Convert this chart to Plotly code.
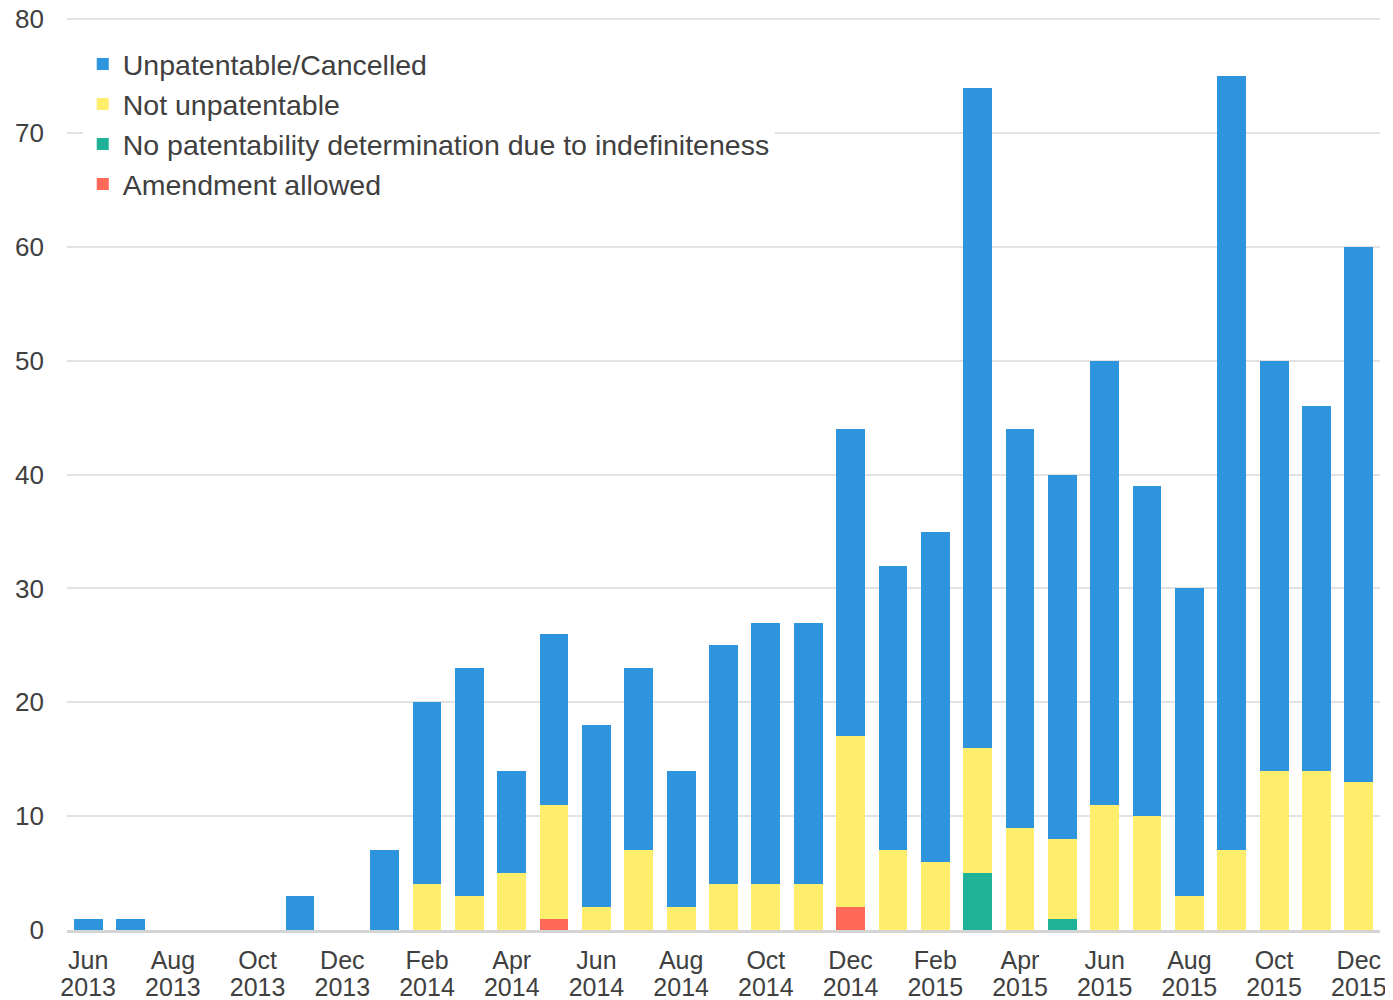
import plotly.graph_objects as go

months = ["Jun 2013", "Jul 2013", "Aug 2013", "Sep 2013", "Oct 2013", "Nov 2013", "Dec 2013",
          "Jan 2014", "Feb 2014", "Mar 2014", "Apr 2014", "May 2014", "Jun 2014", "Jul 2014",
          "Aug 2014", "Sep 2014", "Oct 2014", "Nov 2014", "Dec 2014",
          "Jan 2015", "Feb 2015", "Mar 2015", "Apr 2015", "May 2015", "Jun 2015", "Jul 2015",
          "Aug 2015", "Sep 2015", "Oct 2015", "Nov 2015", "Dec 2015"]

unpatentable = [1, 1, 0, 0, 0, 3, 0, 7, 16, 20, 9, 15, 16, 16, 12, 21, 23, 23, 27,
                25, 29, 58, 35, 32, 39, 29, 27, 68, 36, 32, 47]
not_unpatentable = [0, 0, 0, 0, 0, 0, 0, 0, 4, 3, 5, 10, 2, 7, 2, 4, 4, 4, 15,
                    7, 6, 11, 9, 7, 11, 10, 3, 7, 14, 14, 13]
no_determination = [0, 0, 0, 0, 0, 0, 0, 0, 0, 0, 0, 0, 0, 0, 0, 0, 0, 0, 0,
                    0, 0, 5, 0, 1, 0, 0, 0, 0, 0, 0, 0]
amendment = [0, 0, 0, 0, 0, 0, 0, 0, 0, 0, 0, 1, 0, 0, 0, 0, 0, 0, 2,
             0, 0, 0, 0, 0, 0, 0, 0, 0, 0, 0, 0]

y_ticks = [0, 10, 20, 30, 40, 50, 60, 70, 80]

# every other month gets a label: month name on one axis, year on an overlaid one
tick_idx = list(range(0, len(months), 2))
tick_vals = [months[i] for i in tick_idx]
tick_month = [months[i].split()[0] for i in tick_idx]
tick_year = [months[i].split()[1] for i in tick_idx]

text_color = "#404040"
font_family = "Arial, Liberation Sans, sans-serif"

fig = go.Figure()
# stacking goes bottom to top in trace order
series = [
    ("Amendment allowed", amendment, "#ff695a"),
    ("No patentability determination due to indefiniteness", no_determination, "#1fb299"),
    ("Not unpatentable", not_unpatentable, "#ffee6b"),
    ("Unpatentable/Cancelled", unpatentable, "#2e94de"),
]
for name, vals, col in series:
    fig.add_trace(go.Bar(x=months, y=vals, name=name, marker=dict(color=col, line=dict(width=0))))

# invisible helper so the year axis gets drawn
fig.add_trace(go.Scatter(x=tick_idx, y=[0] * len(tick_idx), xaxis="x2", mode="markers",
                         marker=dict(opacity=0), showlegend=False, hoverinfo="skip"))

fig.update_layout(
    barmode="stack",
    bargap=0.32,
    width=1385,
    height=992,
    margin=dict(l=59, r=13, t=9, b=70),
    paper_bgcolor="white",
    plot_bgcolor="white",
    font=dict(family=font_family, color=text_color, size=25),
    legend=dict(
        traceorder="reversed",
        x=0.012, xanchor="left",
        y=0.976, yanchor="top",
        bgcolor="white",
        font=dict(size=28.5, color=text_color),
        itemwidth=30,
        tracegroupgap=0,
    ),
    xaxis=dict(
        type="category",
        categoryorder="array",
        categoryarray=months,
        tickvals=tick_vals,
        ticktext=tick_month,
        showgrid=False,
        showline=True,
        linecolor="#d4d4d4",
        linewidth=3,
        ticks="",
        tickfont=dict(size=25),
        ticklabelstandoff=6,
        ticklabeloverflow="allow",
        automargin=False,
    ),
    xaxis2=dict(
        overlaying="x",
        anchor="y",
        side="bottom",
        range=[-0.5, len(months) - 0.5],
        tickvals=tick_idx,
        ticktext=tick_year,
        showgrid=False,
        zeroline=False,
        showline=False,
        ticks="",
        tickfont=dict(size=25),
        ticklabelstandoff=40,
        ticklabeloverflow="allow",
        automargin=False,
    ),
    yaxis=dict(
        range=[0, 80.2],
        tickvals=y_ticks,
        showgrid=True,
        gridcolor="#e2e2e2",
        gridwidth=2,
        zeroline=False,
        ticks="",
        tickfont=dict(size=26),
        ticklabelstandoff=22,
        ticklabeloverflow="allow",
        automargin=False,
    ),
)

fig.write_html("out.html")
